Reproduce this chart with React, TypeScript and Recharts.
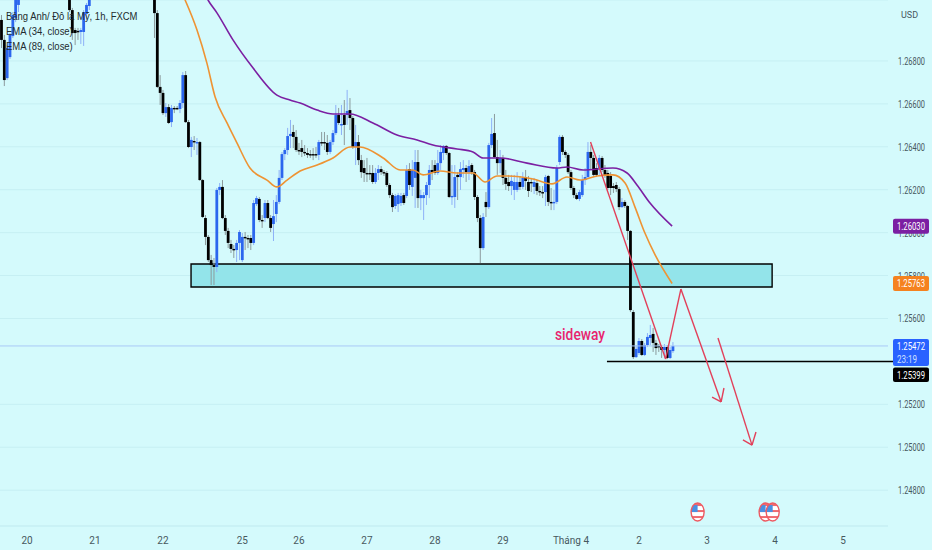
import React from 'react';
import {
  ComposedChart,
  Bar,
  Line,
  XAxis,
  YAxis,
  CartesianGrid,
  ReferenceLine,
  ReferenceArea,
  ReferenceDot
} from 'recharts';

// hourly candles that are inside the picture (the rest run off the top edge)
const span = (a: number, b: number) => Array.from({ length: b - a + 1 }, (_, i) => a + i);
const hours = [...span(-9, -3), ...span(15, 22), ...span(45, 228)];

const opens = [
  1.26991,1.26898,1.26720,1.26818,1.26916,1.27000,1.27061,
  1.27131,1.27037,1.26944,1.26940,1.26935,1.26935,1.27019,1.27056,
  1.27107,1.27023,1.26679,1.26651,1.26557,1.26585,1.26515,1.26581,1.26581,1.26576,
  1.26604,1.26734,1.26515,1.26399,1.26427,1.26418,1.26422,1.26245,1.26068,1.25980,
  1.25872,1.25849,1.25840,1.26199,1.26213,1.26068,1.26008,1.25947,1.25924,1.25919,
  1.25952,1.25872,1.25980,1.25975,1.25975,1.25952,1.26133,1.26157,1.26059,1.26068,
  1.26138,1.26068,1.26040,1.26087,1.26143,1.26255,1.26366,1.26385,1.26450,1.26469,
  1.26446,1.26385,1.26394,1.26376,1.26371,1.26366,1.26366,1.26366,1.26362,1.26422,
  1.26422,1.26418,1.26376,1.26422,1.26464,1.26548,1.26502,1.26548,1.26548,1.26571,
  1.26534,1.26399,1.26422,1.26338,1.26301,1.26278,1.26278,1.26278,1.26236,1.26278,
  1.26296,1.26282,1.26278,1.26222,1.26175,1.26124,1.26133,1.26138,1.26175,1.26171,
  1.26296,1.26213,1.26255,1.26329,1.26161,1.26161,1.26175,1.26222,1.26292,1.26315,
  1.26278,1.26324,1.26371,1.26404,1.26371,1.26166,1.26166,1.26269,1.26259,1.26292,
  1.26301,1.26282,1.26315,1.26282,1.26166,1.26068,1.25928,1.26143,1.26119,1.26408,
  1.26464,1.26352,1.26324,1.26348,1.26255,1.26236,1.26217,1.26199,1.26199,1.26236,
  1.26213,1.26259,1.26236,1.26236,1.26213,1.26231,1.26194,1.26189,1.26189,1.26264,
  1.26143,1.26138,1.26143,1.26329,1.26446,1.26376,1.26362,1.26282,1.26208,1.26175,
  1.26157,1.26175,1.26245,1.26259,1.26376,1.26348,1.26301,1.26301,1.26348,1.26292,
  1.26278,1.26264,1.26217,1.26222,1.26203,1.26119,1.26143,1.26124,1.26008,1.25630,
  1.25420,1.25439,1.25495,1.25430,1.25476,1.25509,1.25528,1.25486,1.25472,1.25467,
  1.25453,1.25467,1.25416,1.25448
];
const highs = [
  1.27014,1.26921,1.26874,1.26930,1.27028,1.27140,1.27177,
  1.27154,1.27047,1.26954,1.26954,1.26954,1.27037,1.27070,1.27121,
  1.27121,1.27037,1.26734,1.26665,1.26604,1.26599,1.26595,1.26590,1.26590,1.26618,
  1.26748,1.26753,1.26525,1.26446,1.26450,1.26441,1.26427,1.26250,1.26082,1.25989,
  1.25896,1.25882,1.26208,1.26231,1.26245,1.26082,1.26022,1.25966,1.25942,1.25966,
  1.26012,1.25998,1.26003,1.25989,1.25989,1.26152,1.26171,1.26166,1.26082,1.26152,
  1.26152,1.26082,1.26152,1.26175,1.26292,1.26376,1.26394,1.26488,1.26525,1.26502,
  1.26478,1.26418,1.26432,1.26408,1.26394,1.26385,1.26394,1.26399,1.26432,1.26469,
  1.26469,1.26455,1.26432,1.26478,1.26595,1.26581,1.26595,1.26618,1.26665,1.26627,
  1.26543,1.26502,1.26455,1.26362,1.26338,1.26348,1.26315,1.26315,1.26301,1.26315,
  1.26310,1.26292,1.26287,1.26231,1.26185,1.26180,1.26185,1.26185,1.26185,1.26315,
  1.26324,1.26338,1.26385,1.26385,1.26199,1.26189,1.26236,1.26315,1.26338,1.26338,
  1.26385,1.26408,1.26408,1.26408,1.26376,1.26315,1.26315,1.26282,1.26329,1.26338,
  1.26315,1.26338,1.26324,1.26292,1.26175,1.26082,1.26091,1.26189,1.26418,1.26534,
  1.26553,1.26432,1.26385,1.26362,1.26292,1.26269,1.26269,1.26269,1.26282,1.26264,
  1.26282,1.26292,1.26264,1.26255,1.26255,1.26245,1.26217,1.26217,1.26269,1.26269,
  1.26208,1.26199,1.26315,1.26455,1.26455,1.26385,1.26371,1.26292,1.26217,1.26185,
  1.26199,1.26269,1.26301,1.26422,1.26408,1.26362,1.26324,1.26362,1.26357,1.26315,
  1.26292,1.26282,1.26231,1.26236,1.26213,1.26161,1.26152,1.26129,1.26012,1.25639,
  1.25476,1.25509,1.25504,1.25486,1.25532,1.25570,1.25556,1.25500,1.25481,1.25476,
  1.25481,1.25476,1.25467,1.25490
];
const lows = [
  1.26860,1.26683,1.26711,1.26809,1.26907,1.26981,1.27028,
  1.27028,1.26898,1.26874,1.26898,1.26879,1.26870,1.26991,1.27037,
  1.26907,1.26674,1.26595,1.26548,1.26539,1.26506,1.26492,1.26557,1.26571,1.26557,
  1.26581,1.26511,1.26394,1.26352,1.26385,1.26362,1.26241,1.26068,1.25942,1.25863,
  1.25756,1.25756,1.25816,1.26175,1.26063,1.25989,1.25928,1.25905,1.25882,1.25863,
  1.25872,1.25863,1.25919,1.25928,1.25919,1.25942,1.26124,1.26049,1.26022,1.26049,
  1.26063,1.26003,1.25961,1.26049,1.26133,1.26245,1.26338,1.26362,1.26394,1.26394,
  1.26376,1.26362,1.26352,1.26357,1.26348,1.26348,1.26338,1.26348,1.26338,1.26404,
  1.26385,1.26362,1.26366,1.26408,1.26455,1.26502,1.26455,1.26408,1.26502,1.26478,
  1.26390,1.26315,1.26315,1.26255,1.26236,1.26236,1.26245,1.26227,1.26227,1.26245,
  1.26269,1.26264,1.26213,1.26161,1.26096,1.26110,1.26096,1.26124,1.26129,1.26161,
  1.26199,1.26171,1.26115,1.26115,1.26105,1.26059,1.26129,1.26161,1.26245,1.26269,
  1.26269,1.26292,1.26338,1.26362,1.26161,1.26129,1.26115,1.26152,1.26199,1.26255,
  1.26236,1.26245,1.26269,1.26152,1.26049,1.25858,1.25919,1.26073,1.26110,1.26394,
  1.26348,1.26269,1.26278,1.26222,1.26199,1.26194,1.26175,1.26152,1.26189,1.26199,
  1.26203,1.26199,1.26166,1.26189,1.26180,1.26175,1.26171,1.26161,1.26124,1.26124,
  1.26105,1.26105,1.26133,1.26315,1.26362,1.26348,1.26273,1.26199,1.26161,1.26152,
  1.26147,1.26166,1.26222,1.26255,1.26292,1.26259,1.26259,1.26269,1.26282,1.26255,
  1.26199,1.26175,1.26185,1.26189,1.26105,1.26115,1.26115,1.25966,1.25630,1.25411,
  1.25416,1.25430,1.25425,1.25425,1.25467,1.25476,1.25444,1.25430,1.25444,1.25416,
  1.25416,1.25411,1.25411,1.25439
];
const closes = [
  1.26898,1.26711,1.26860,1.26921,1.27014,1.27131,1.27154,
  1.27037,1.26930,1.26930,1.26935,1.26944,1.27028,1.27061,1.27107,
  1.27023,1.26679,1.26651,1.26557,1.26585,1.26511,1.26581,1.26576,1.26576,1.26604,
  1.26734,1.26515,1.26399,1.26432,1.26422,1.26422,1.26245,1.26073,1.25980,1.25872,
  1.25849,1.25840,1.26199,1.26213,1.26068,1.26008,1.25952,1.25924,1.25919,1.25952,
  1.26003,1.25980,1.25975,1.25970,1.25952,1.26138,1.26161,1.26059,1.26054,1.26138,
  1.26068,1.26022,1.26077,1.26143,1.26255,1.26366,1.26385,1.26450,1.26460,1.26446,
  1.26385,1.26380,1.26376,1.26371,1.26362,1.26362,1.26362,1.26362,1.26422,1.26418,
  1.26418,1.26376,1.26422,1.26464,1.26548,1.26511,1.26506,1.26502,1.26567,1.26534,
  1.26399,1.26422,1.26338,1.26282,1.26278,1.26273,1.26273,1.26236,1.26278,1.26296,
  1.26282,1.26278,1.26222,1.26175,1.26119,1.26171,1.26175,1.26171,1.26138,1.26292,
  1.26222,1.26292,1.26329,1.26161,1.26175,1.26175,1.26222,1.26292,1.26282,1.26278,
  1.26324,1.26376,1.26404,1.26371,1.26166,1.26171,1.26259,1.26259,1.26296,1.26301,
  1.26282,1.26310,1.26282,1.26166,1.26068,1.25928,1.26073,1.26119,1.26408,1.26460,
  1.26352,1.26324,1.26348,1.26255,1.26227,1.26217,1.26241,1.26236,1.26236,1.26213,
  1.26255,1.26241,1.26194,1.26231,1.26236,1.26194,1.26189,1.26185,1.26259,1.26143,
  1.26138,1.26143,1.26301,1.26446,1.26376,1.26362,1.26282,1.26208,1.26175,1.26157,
  1.26189,1.26245,1.26259,1.26376,1.26348,1.26269,1.26269,1.26348,1.26292,1.26269,
  1.26208,1.26208,1.26208,1.26203,1.26119,1.26143,1.26124,1.26008,1.25639,1.25420,
  1.25458,1.25495,1.25430,1.25476,1.25514,1.25523,1.25486,1.25462,1.25467,1.25453,
  1.25467,1.25416,1.25453,1.25472
];

const ema34Hours = [53.5,55.8,60,63.5,66.4,70.6,74.1,78.7,84.7,88.2,91.8,96.4,102.4,108,114,117.5,125.7,131.7,136.2,139.8,145.8,151.8,157.4,161.7,165.9,169.4,178.6,185.3,190.6,195.2,201.2,206.8,211.1,214.6,218.1,221.7,227.7];
const ema34Values = [1.27150,1.27084,1.26944,1.26790,1.26632,1.26511,1.26418,1.26301,1.26245,1.26213,1.26245,1.26287,1.26315,1.26348,1.26399,1.26399,1.26348,1.26292,1.26292,1.26269,1.26287,1.26278,1.26278,1.26236,1.26264,1.26264,1.26250,1.26227,1.26259,1.26245,1.26264,1.26269,1.26231,1.26119,1.25998,1.25896,1.25763];
const ema89Hours = [61.5,63.9,67.1,72.7,79.8,88.2,92.8,96.4,102.4,108,114,122.1,130.6,137.7,143.3,151.8,157.4,161,167,176.5,187.1,190.6,196.3,206.8,211.8,215.3,219.9,227.7];
const ema89Values = [1.27150,1.27084,1.27023,1.26898,1.26767,1.26641,1.26618,1.26604,1.26571,1.26553,1.26553,1.26511,1.26455,1.26432,1.26408,1.26390,1.26376,1.26348,1.26348,1.26324,1.26301,1.26306,1.26292,1.26301,1.26278,1.26222,1.26138,1.26030];

// 1.25400 sits under the blue price tag, so it is never readable
const priceTicks = [1.248,1.25,1.252,1.256,1.258,1.26,1.262,1.264,1.266,1.268];
const dayTicks = [0,24,48,76,96,120,144,168,192,216,240,264,288];
const dayLabels = ['20','21','22','25','26','27','28','29','Tháng 4','2','3','4','5'];

// drawn trend lines, [hour, price] pairs
const redPath = [[198.9,1.26422],[225.4,1.25411],[230.8,1.25737],[245,1.25211]];
const redArrow1 = [[241.8,1.25234],[245,1.25211],[246,1.25276]];
const redPath2 = [[243.9,1.25509],[255.9,1.2501]];
const redArrow2 = [[252.7,1.25034],[255.9,1.2501],[257.3,1.25071]];
const flagHours = [236.7,260.7,263.2];

const candles = hours.map((hour, i) => ({
  hour,
  open: opens[i],
  high: highs[i],
  low: lows[i],
  close: closes[i]
}));
const ema34Data = ema34Hours.map((hour, i) => ({ hour, value: ema34Values[i] }));
const ema89Data = ema89Hours.map((hour, i) => ({ hour, value: ema89Values[i] }));

const X_MIN = -9.53;
const X_MAX = 303.9;
const Y_DOMAIN = [1.24633, 1.27084];
const BG = '#d4fafc';
const AXIS_TEXT = '#47585e';
const RED = '#e2405a';

const Candle = (props: any) => {
  const { x, y, width, height, payload } = props;
  const cx = x + width / 2;
  const perUnit = height / (payload.high - payload.low);
  const top = y + (payload.high - Math.max(payload.open, payload.close)) * perUnit;
  const bodyH = Math.max(1.4, Math.abs(payload.open - payload.close) * perUnit);
  const up = payload.close >= payload.open;
  return (
    <g>
      <line x1={cx} x2={cx} y1={y} y2={y + height} stroke={up ? '#8db0f7' : '#8c9a9c'} strokeWidth={1} />
      <rect x={cx - 1.4} y={top} width={2.8} height={bodyH} fill={up ? '#2b66ee' : '#000000'} />
    </g>
  );
};

const PriceTick = ({ x, y, payload }: any) => (
  <text x={x + 2} y={y + 4} fontSize={10.5} fontFamily="Roboto" fill={AXIS_TEXT} textLength={27} lengthAdjust="spacingAndGlyphs">
    {payload.value.toFixed(5)}
  </text>
);

const DayTick = ({ x, y, payload, index }: any) => (
  <text x={x} y={y + 10} textAnchor="middle" fontSize={10} fontFamily="Roboto" fill={AXIS_TEXT}>
    {dayLabels[index] ?? dayLabels[dayTicks.indexOf(payload.value)]}
  </text>
);

const tag = (color: string, label: string, top: number, h: number, sub?: string) => (props: any) => {
  const { cx, cy } = props;
  return (
    <g>
      <rect x={cx + 5} y={cy + top} width={36} height={h} rx={2} fill={color} />
      <text x={cx + 9} y={cy + top + 11} fontSize={10.5} fontFamily="Roboto" fill="#ffffff" textLength={28} lengthAdjust="spacingAndGlyphs">
        {label}
      </text>
      {sub && (
        <text x={cx + 9} y={cy + top + 24} fontSize={10.5} fontFamily="Roboto" fill="#cfe0ff" textLength={20} lengthAdjust="spacingAndGlyphs">
          {sub}
        </text>
      )}
    </g>
  );
};

const Flag = (props: any) => {
  const { cx, cy } = props;
  const id = `flag${Math.round(cx)}`;
  return (
    <g>
      <clipPath id={id}>
        <ellipse cx={cx} cy={cy} rx={6.5} ry={9} />
      </clipPath>
      <ellipse cx={cx} cy={cy} rx={6.5} ry={9} fill="#ffffff" />
      <g clipPath={`url(#${id})`}>
        <rect x={cx - 7} y={cy - 9} width={14} height={3} fill="#ef6a70" />
        <rect x={cx - 7} y={cy - 2} width={14} height={2} fill="#ef6a70" />
        <rect x={cx - 7} y={cy + 4} width={14} height={2} fill="#ef6a70" />
        <rect x={cx - 7} y={cy - 7} width={7} height={7} fill="#4a90e2" />
      </g>
      <ellipse cx={cx} cy={cy} rx={6.5} ry={9} fill="none" stroke="#ee5a62" strokeWidth={1.4} />
    </g>
  );
};

const SidewayLabel = (props: any) => (
  <text x={props.cx - 25} y={props.cy + 5} fontSize={16} fontWeight={500} fontFamily="Roboto" fill="#e8246e" textLength={50} lengthAdjust="spacingAndGlyphs">
    sideway
  </text>
);

const polyline = (pts: number[][], key: string) =>
  pts.slice(1).map((p, i) => (
    <ReferenceLine
      key={`${key}${i}`}
      segment={[{ x: pts[i][0], y: pts[i][1] }, { x: p[0], y: p[1] }]}
      stroke={RED}
      strokeWidth={1.4}
      ifOverflow="visible"
    />
  ));

const legendStyle: React.CSSProperties = {
  position: 'absolute',
  left: 6,
  fontFamily: 'Liberation Sans',
  fontSize: 11,
  color: '#222b2e',
  whiteSpace: 'nowrap',
  transform: 'scaleX(0.86)',
  transformOrigin: 'left center'
};

export default function App() {
  return (
    <div style={{ position: 'fixed', left: 0, top: 0, width: 932, height: 550, background: BG, overflow: 'hidden' }}>
      <ComposedChart width={932} height={550} data={candles} margin={{ top: 0, right: 0, bottom: 0, left: 0 }}>
        <CartesianGrid stroke="#c6eff3" vertical={false} />
        <XAxis
          dataKey="hour"
          type="number"
          domain={[X_MIN, X_MAX]}
          ticks={dayTicks}
          interval={0}
          allowDataOverflow
          height={24}
          axisLine={{ stroke: '#c6eff3' }}
          tickLine={false}
          tick={<DayTick />}
        />
        <YAxis
          orientation="right"
          width={44}
          domain={Y_DOMAIN}
          ticks={priceTicks}
          interval={0}
          allowDataOverflow
          axisLine={false}
          tickLine={false}
          tick={<PriceTick />}
        />
        <ReferenceArea
          x1={57.9}
          x2={263}
          y1={1.25747}
          y2={1.25854}
          fill="#93e4ea"
          fillOpacity={1}
          stroke="#000000"
          strokeWidth={1.4}
        />
        <ReferenceLine y={1.25472} stroke="#a9c9f7" strokeWidth={1} />
        <Bar dataKey={(d: any) => [d.low, d.high]} barSize={3} shape={<Candle />} isAnimationActive={false} />
        <Line data={ema34Data} dataKey="value" type="monotone" stroke="#ee9333" strokeWidth={1.6} dot={false} isAnimationActive={false} />
        <Line data={ema89Data} dataKey="value" type="monotone" stroke="#7b1fa2" strokeWidth={1.6} dot={false} isAnimationActive={false} />
        <ReferenceLine segment={[{ x: 204.7, y: 1.25399 }, { x: 305.7, y: 1.25399 }]} stroke="#000000" strokeWidth={1.5} ifOverflow="visible" />
        {polyline(redPath, 'a')}
        {polyline(redArrow1, 'b')}
        {polyline(redPath2, 'c')}
        {polyline(redArrow2, 'd')}
        <ReferenceDot x={195.2} y={1.25523} r={0} shape={<SidewayLabel />} ifOverflow="visible" />
        {flagHours.map(h => (
          <ReferenceDot key={h} x={h} y={1.24698} shape={<Flag />} ifOverflow="visible" />
        ))}
      </ComposedChart>
      {/* second chart on the same scales: axis ticks always paint over dots, the price tags must cover them */}
      <div style={{ position: 'absolute', left: 0, top: 0 }}>
        <ComposedChart width={932} height={550} data={candles} margin={{ top: 0, right: 44, bottom: 24, left: 0 }}>
          <XAxis dataKey="hour" type="number" domain={[X_MIN, X_MAX]} allowDataOverflow hide />
          <YAxis domain={Y_DOMAIN} allowDataOverflow hide />
          <ReferenceDot x={X_MAX} y={1.2603} shape={tag('#7b1fa2', '1.26030', -7.5, 15)} ifOverflow="visible" />
          <ReferenceDot x={X_MAX} y={1.25763} shape={tag('#f5821f', '1.25763', -7.5, 15)} ifOverflow="visible" />
          <ReferenceDot x={X_MAX} y={1.25472} shape={tag('#2962ff', '1.25472', -7, 27, '23:19')} ifOverflow="visible" />
          <ReferenceDot x={X_MAX} y={1.25399} shape={tag('#000000', '1.25399', 6, 14.5)} ifOverflow="visible" />
        </ComposedChart>
      </div>
      <div style={{ ...legendStyle, top: 10 }}>Bảng Anh/ Đô la Mỹ, 1h, FXCM</div>
      <div style={{ ...legendStyle, top: 25 }}>EMA (34, close)</div>
      <div style={{ ...legendStyle, top: 40 }}>EMA (89, close)</div>
      <div style={{ position: 'absolute', left: 901, top: 10, fontFamily: 'Roboto', fontSize: 9, color: AXIS_TEXT }}>USD</div>
    </div>
  );
}
